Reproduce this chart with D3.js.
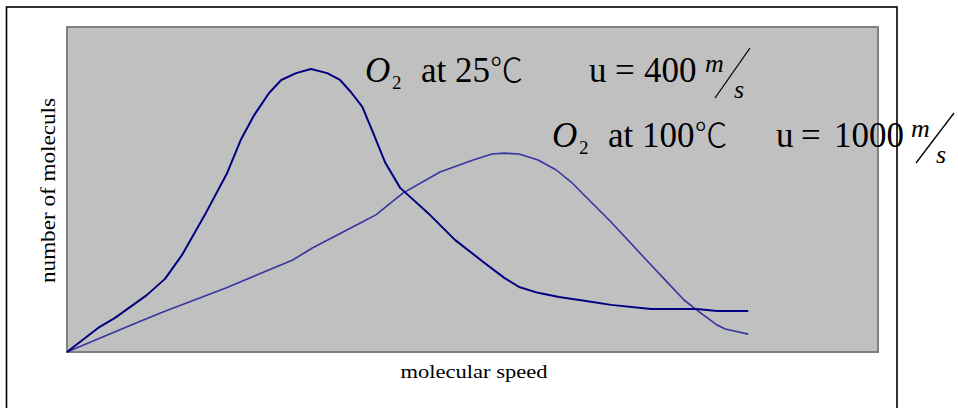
<!doctype html>
<html lang="en">
<head>
<meta charset="utf-8">
<title>Molecular speed distribution</title>
<script src="https://cdn.jsdelivr.net/npm/d3@7"></script>
<style>
  body { margin: 0; background: #fff; }
  svg { display: block; }
</style>
</head>
<body>
<script>

// speeds (m/s, arbitrary scale) and relative counts (% of plot height)
var speed25 = [0, 46, 71, 118, 145, 170, 204, 237, 257, 277, 299, 317, 339, 361, 385, 404, 420, 437, 453, 471, 493, 534, 574, 616, 647, 669, 697, 728, 768, 805, 864, 932, 962, 1008];
var count25 = [0, 7.4, 10.5, 17.5, 22.5, 29.8, 42.2, 55.1, 65.2, 72.9, 79.7, 83.7, 85.8, 87.1, 85.8, 83.7, 80.0, 75.4, 67.4, 58.2, 50.5, 42.8, 34.5, 27.7, 22.8, 20.0, 18.2, 16.9, 15.7, 14.5, 13.2, 13.2, 12.6, 12.6];

var speed100 = [0, 95, 142, 235, 334, 363, 434, 457, 497, 552, 601, 629, 647, 669, 697, 724, 746, 768, 805, 860, 885, 913, 932, 962, 974, 1008];
var count100 = [0, 8.3, 12.3, 19.7, 28.3, 32.0, 39.7, 42.2, 48.9, 55.4, 59.1, 60.9, 61.2, 60.9, 59.1, 56.0, 52.3, 47.7, 40.0, 27.7, 22.2, 16.0, 12.9, 8.3, 7.1, 5.5];

var xTitle = "molecular speed";
var yTitle = "number of moleculs";

var width = 958, height = 408;
var plot = { left: 67, top: 27, right: 878, bottom: 352 };

var svg = d3.select("body").append("svg")
    .attr("width", width)
    .attr("height", height);

// outer frame (bottom edge runs off the page)
svg.append("rect")
    .attr("x", 6.5).attr("y", 7)
    .attr("width", 890.5).attr("height", 420)
    .attr("fill", "none")
    .attr("stroke", "#000")
    .attr("stroke-width", 1.6);

// plot area
svg.append("rect")
    .attr("x", plot.left).attr("y", plot.top)
    .attr("width", plot.right - plot.left)
    .attr("height", plot.bottom - plot.top)
    .attr("fill", "#c0c0c0")
    .attr("stroke", "#808080")
    .attr("stroke-width", 2);

var x = d3.scaleLinear().domain([0, 1200]).range([plot.left, plot.right]);
var y = d3.scaleLinear().domain([0, 100]).range([plot.bottom, plot.top]);

var line = d3.line()
    .x(function(d) { return x(d[0]); })
    .y(function(d) { return y(d[1]); });

svg.append("path")
    .datum(d3.zip(speed100, count100))
    .attr("d", line)
    .attr("fill", "none")
    .attr("stroke", "#3535a0")
    .attr("stroke-width", 1.6)
    .attr("stroke-linejoin", "round");

svg.append("path")
    .datum(d3.zip(speed25, count25))
    .attr("d", line)
    .attr("fill", "none")
    .attr("stroke", "#000080")
    .attr("stroke-width", 2)
    .attr("stroke-linejoin", "round");

var serif = "'Liberation Serif', 'Times New Roman', 'DejaVu Serif', serif";

// axis titles
svg.append("text")
    .attr("x", 474).attr("y", 378)
    .attr("text-anchor", "middle")
    .attr("font-family", serif)
    .attr("font-size", 19)
    .attr("textLength", 147)
    .attr("lengthAdjust", "spacingAndGlyphs")
    .text(xTitle);

svg.append("text")
    .attr("transform", "translate(55,190.5) rotate(-90)")
    .attr("text-anchor", "middle")
    .attr("font-family", serif)
    .attr("font-size", 21)
    .attr("textLength", 185)
    .attr("lengthAdjust", "spacingAndGlyphs")
    .text(yTitle);

// annotations
function label(o) {
    var g = svg.append("g").attr("font-family", serif).attr("fill", "#000");
    g.append("text").attr("x", o.x[0]).attr("y", o.base)
        .attr("font-size", 35).attr("font-style", "italic").text("O");
    g.append("text").attr("x", o.x[1]).attr("y", o.base + 7)
        .attr("font-size", 19).text("2");
    var t = g.append("text").attr("x", o.x[2]).attr("y", o.base)
        .attr("font-size", 35);
    t.append("tspan").text("at " + o.temp);
    t.append("tspan")
        .attr("font-family", "'Noto Sans CJK SC', 'Noto Sans CJK JP', sans-serif")
        .attr("font-weight", 300)
        .attr("font-size", 33)
        .text("\u2103");
    g.append("text").attr("x", o.x[3]).attr("y", o.base)
        .attr("font-size", 35).text("u");
    g.append("text").attr("x", o.x[4]).attr("y", o.base)
        .attr("font-size", 35).text("=");
    g.append("text").attr("x", o.x[5]).attr("y", o.base)
        .attr("font-size", 35).text(o.u);
    g.append("text").attr("x", o.x[6]).attr("y", o.base - 10)
        .attr("font-size", 26).attr("font-style", "italic").text("m");
    g.append("line")
        .attr("x1", o.slash[0]).attr("y1", o.slash[1])
        .attr("x2", o.slash[2]).attr("y2", o.slash[3])
        .attr("stroke", "#000").attr("stroke-width", 1.3);
    g.append("text").attr("x", o.x[7]).attr("y", o.base + 16)
        .attr("font-size", 26).attr("font-style", "italic").text("s");
}

label({ temp: 25, u: "400", base: 82,
        x: [365, 392, 421, 589, 615, 644, 705, 734],
        slash: [750, 48, 715, 98] });
label({ temp: 100, u: "1000", base: 147,
        x: [552, 579, 608, 776, 801, 834, 911, 936],
        slash: [954, 113, 916, 163] });

</script>
</body>
</html>
